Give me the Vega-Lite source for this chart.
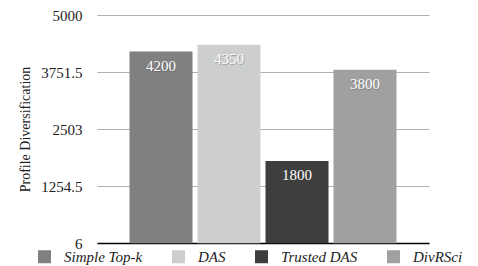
{
  "$schema": "https://vega.github.io/schema/vega-lite/v6.json",
  "width": 332,
  "height": 228,
  "autosize": "none",
  "padding": {"left": 97, "top": 15, "right": 49, "bottom": 23},
  "background": "white",
  "config": {
    "view": {"stroke": null},
    "font": "Times New Roman, Liberation Serif, serif"
  },
  "data": {"values": [
    {"method": "Simple Top-k", "value": 4200},
    {"method": "DAS", "value": 4350},
    {"method": "Trusted DAS", "value": 1800},
    {"method": "DivRSci", "value": 3800}
  ]},
  "encoding": {
    "x": {
      "field": "method", "type": "nominal",
      "sort": ["Simple Top-k", "DAS", "Trusted DAS", "DivRSci"],
      "scale": {"paddingInner": 0.0735, "paddingOuter": 0.478},
      "axis": {"labels": false, "ticks": false, "title": null, "grid": false, "domainColor": "#000000", "domainWidth": 1.5}
    },
    "y": {
      "field": "value", "type": "quantitative",
      "scale": {"domain": [6, 5000], "nice": false, "zero": false},
      "axis": {
        "values": [6, 1254.5, 2503, 3751.5, 5000],
        "labelExpr": "'' + datum.value",
        "title": "Profile Diversification",
        "titleFont": "Times New Roman, Liberation Serif, serif", "labelFont": "Times New Roman, Liberation Serif, serif",
        "titleFontSize": 14, "titleFontWeight": "normal", "titleColor": "#222222", "titlePadding": 8,
        "labelFontSize": 15, "labelColor": "#222222", "labelPadding": 15,
        "domain": false, "ticks": false,
        "gridColor": "#b0b0b0", "gridWidth": 1
      }
    }
  },
  "layer": [
    {
      "mark": {"type": "bar"},
      "encoding": {
        "color": {
          "field": "method", "type": "nominal",
          "sort": ["Simple Top-k", "DAS", "Trusted DAS", "DivRSci"],
          "scale": {"domain": ["Simple Top-k", "DAS", "Trusted DAS", "DivRSci"], "range": ["#808080", "#cdcfce", "#3d3e3d", "#a0a0a0"]},
          "legend": {
            "orient": "none", "legendX": -60, "legendY": 234, "direction": "horizontal",
            "title": null, "symbolType": "square", "symbolSize": 169, "symbolStrokeWidth": 0,
            "labelFont": "Times New Roman, Liberation Serif, serif",
            "labelFontSize": 15, "labelFontStyle": "italic", "labelColor": "#222222",
            "labelOffset": 12, "columnPadding": 28
          }
        }
      }
    },
    {
      "mark": {"type": "text", "font": "Times New Roman, Liberation Serif, serif", "dy": 15, "dx": 0.8, "baseline": "middle", "color": "#444444", "opacity": 0.35, "fontSize": 15},
      "encoding": {"text": {"field": "value", "type": "quantitative", "format": "d"}}
    },
    {
      "mark": {"type": "text", "font": "Times New Roman, Liberation Serif, serif", "dy": 14, "baseline": "middle", "color": "#ffffff", "fontSize": 15},
      "encoding": {"text": {"field": "value", "type": "quantitative", "format": "d"}}
    }
  ]
}
